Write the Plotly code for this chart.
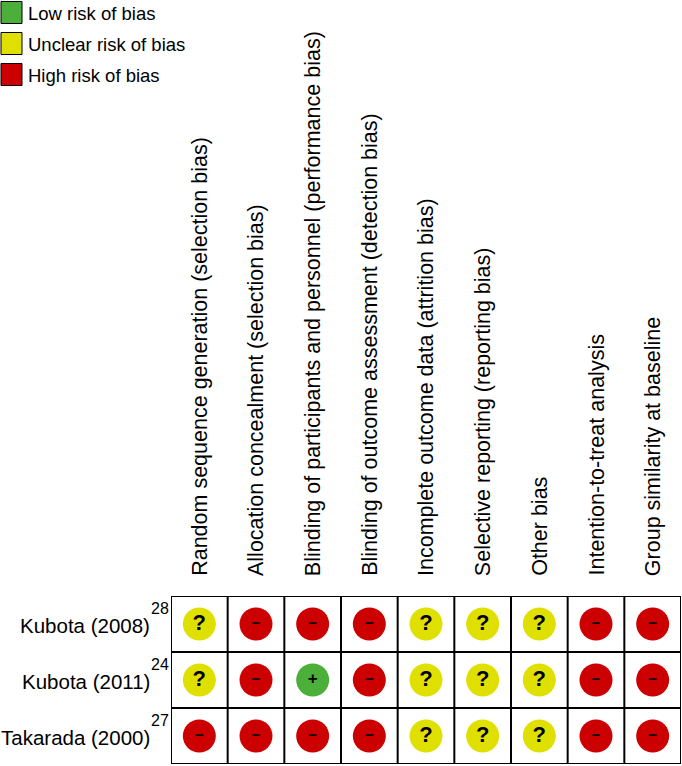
import plotly.graph_objects as go

W, H = 682, 766

studies = ["Kubota (2008)", "Kubota (2011)", "Takarada (2000)"]
study_refs = ["28", "24", "27"]
domains = [
    "Random sequence generation (selection bias)",
    "Allocation concealment (selection bias)",
    "Blinding of participants and personnel (performance bias)",
    "Blinding of outcome assessment (detection bias)",
    "Incomplete outcome data (attrition bias)",
    "Selective reporting (reporting bias)",
    "Other bias",
    "Intention-to-treat analysis",
    "Group similarity at baseline",
]
judgements = [
    ["?", "-", "-", "-", "?", "?", "?", "-", "-"],
    ["?", "-", "+", "-", "?", "?", "?", "-", "-"],
    ["-", "-", "-", "-", "?", "?", "?", "-", "-"],
]
legend_labels = ["Low risk of bias", "Unclear risk of bias", "High risk of bias"]
legend_keys = ["+", "?", "-"]

colors = {"+": "#4CAF3A", "?": "#E0E000", "-": "#CC0000"}
glyph = {"+": "<b>+</b>", "?": "<b>?</b>", "-": "<b>−</b>"}
glyph_size = {"+": 17, "?": 22, "-": 15}

FONT = "Arial, Liberation Sans, sans-serif"

fig = go.Figure()

xs, ys, cs = [], [], []
for r, row in enumerate(judgements):
    for c, j in enumerate(row):
        xs.append(c + 0.5)
        ys.append(r + 0.5)
        cs.append(colors[j])
fig.add_trace(go.Scatter(x=xs, y=ys, mode="markers",
                         marker=dict(size=33, color=cs, line=dict(width=0)),
                         hoverinfo="skip", showlegend=False))

for key in ["+", "?", "-"]:
    tx, ty = [], []
    for r, row in enumerate(judgements):
        for c, j in enumerate(row):
            if j == key:
                tx.append(c + 0.5)
                ty.append(r + 0.5)
    if tx:
        fig.add_trace(go.Scatter(x=tx, y=ty, mode="text", text=[glyph[key]] * len(tx),
                                 textposition="middle center",
                                 textfont=dict(size=glyph_size[key], color="black", family=FONT),
                                 hoverinfo="skip", showlegend=False))

ncol, nrow = len(domains), len(studies)
shapes = []
for i in range(ncol + 1):
    shapes.append(dict(type="line", xref="x", yref="y", x0=i, x1=i, y0=0, y1=nrow,
                       line=dict(color="black", width=2)))
for j in range(nrow + 1):
    shapes.append(dict(type="line", xref="x", yref="y", x0=0, x1=ncol, y0=j, y1=j,
                       line=dict(color="black", width=2)))

annotations = []
for i, d in enumerate(domains):
    annotations.append(dict(x=i + 0.5, y=0, xref="x", yref="y", text=d, textangle=-90,
                            showarrow=False, xanchor="center", yanchor="bottom", yshift=18,
                            font=dict(size=21.5, family=FONT, color="black")))
for r, (s, ref) in enumerate(zip(studies, study_refs)):
    annotations.append(dict(x=0, y=r + 0.5, xref="x", yref="y", text=s, showarrow=False,
                            xanchor="right", yanchor="middle", xshift=-19, yshift=-1,
                            font=dict(size=20.5, family=FONT, color="black")))
    annotations.append(dict(x=0, y=r + 0.5, xref="x", yref="y", text=ref, showarrow=False,
                            xanchor="left", yanchor="middle", xshift=-22, yshift=16,
                            font=dict(size=16, family=FONT, color="black")))

# legend (paper coords = whole figure since margins are 0)
for k, (lab, key) in enumerate(zip(legend_labels, legend_keys)):
    top = 1.5 + 31 * k
    shapes.append(dict(type="rect", xref="paper", yref="paper",
                       x0=1 / W, x1=22 / W, y0=1 - top / H, y1=1 - (top + 22) / H,
                       fillcolor=colors[key], line=dict(color="black", width=1)))
    annotations.append(dict(x=26 / W, y=1 - (top + 12) / H, xref="paper", yref="paper",
                            text=lab, showarrow=False, xanchor="left", yanchor="middle",
                            font=dict(size=18.5, family=FONT, color="black")))

fig.update_layout(
    width=W, height=H, margin=dict(l=0, r=0, t=0, b=0),
    paper_bgcolor="white", plot_bgcolor="white",
    xaxis=dict(domain=[171 / W, 681 / W], range=[0, ncol], visible=False, fixedrange=True),
    yaxis=dict(domain=[2 / H, 170 / H], range=[nrow, 0], visible=False, fixedrange=True),
    shapes=shapes, annotations=annotations, showlegend=False,
)

fig.write_html("out.html", config={"displayModeBar": False},
               post_script="document.body.style.margin='0';document.body.style.overflow='hidden';")
